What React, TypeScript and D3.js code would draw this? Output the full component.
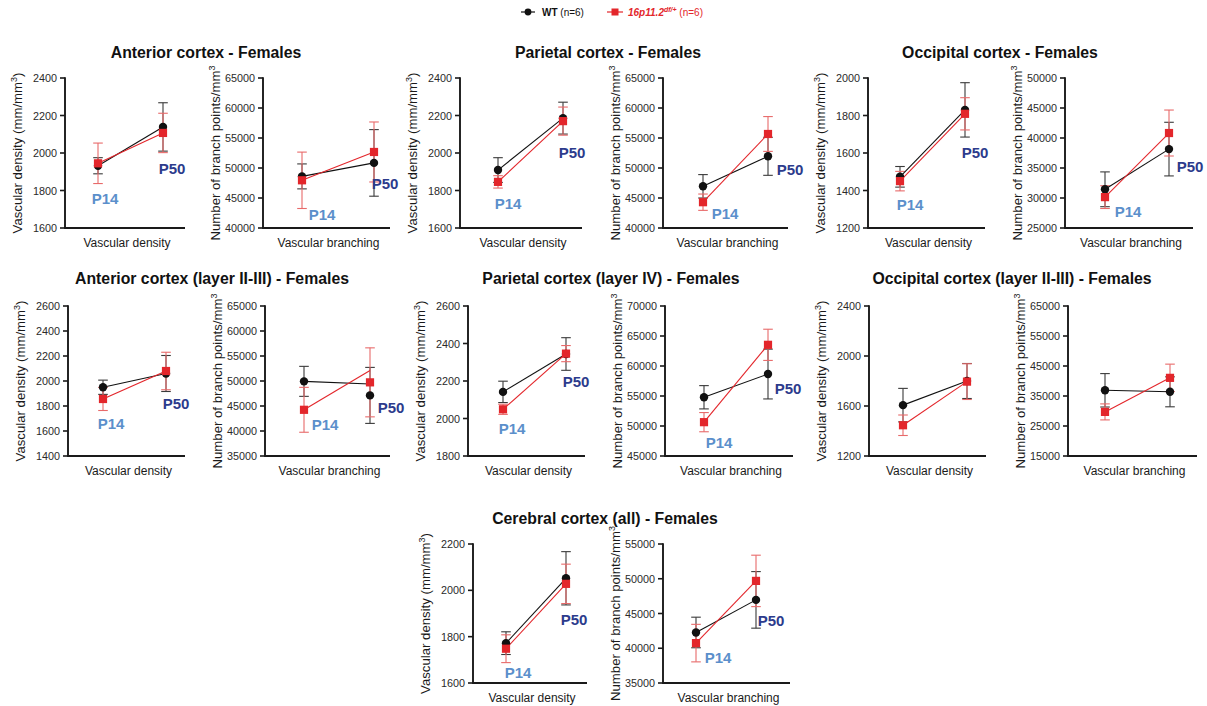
import React from "react";
import * as d3 from "d3";

// ---------------- DATA ----------------
const groupTitles = [
  "Anterior cortex - Females",
  "Parietal cortex - Females",
  "Occipital cortex - Females",
  "Anterior cortex (layer II-III) - Females",
  "Parietal cortex (layer IV) - Females",
  "Occipital cortex (layer II-III) - Females",
  "Cerebral cortex (all) - Females",
];
const metricLabels = ["Vascular density", "Vascular branching"];
const ages = ["P14", "P50"];

// panel order: group0 density, group0 branching, group1 density, ...
const wtMean = [
  [1932, 2139], [48600, 50850],
  [1909, 2186], [46950, 51950],
  [1473, 1830], [31450, 38150],
  [1950, 2060], [49930, 47120],
  [2142, 2344], [54790, 58660],
  [1607, 1800], [36900, 36400],
  [1772, 2052], [42270, 46960],
];
const wtErr = [
  [43, 129], [2080, 5550],
  [66, 85], [1950, 3170],
  [55, 145], [2900, 4470],
  [57, 144], [3000, 5600],
  [57, 87], [1940, 4150],
  [134, 140], [5570, 5000],
  [49, 115], [2200, 4070],
];
const hetMean = [
  [1945, 2107], [47950, 52670],
  [1846, 2170], [44300, 55670],
  [1450, 1809], [30150, 40830],
  [1856, 2080], [44240, 49730],
  [2049, 2346], [50640, 63530],
  [1446, 1795], [29700, 41050],
  [1748, 2028], [40740, 49690],
];
const hetErr = [
  [108, 105], [4700, 5000],
  [33, 75], [1360, 2900],
  [52, 86], [1900, 3830],
  [92, 150], [4490, 6900],
  [27, 43], [1600, 2600],
  [82, 143], [2670, 4570],
  [60, 85], [2700, 3700],
];
// connecting-line values (equal to the means except where the original line differs)
const wtLine = wtMean.map((d, i) => (i === 7 ? [49930, 49400] : d));
const hetLine = hetMean.map((d, i) => (i === 7 ? [44240, 52100] : d));

const yTicks = [
  [1600, 1800, 2000, 2200, 2400], [40000, 45000, 50000, 55000, 60000, 65000],
  [1600, 1800, 2000, 2200, 2400], [40000, 45000, 50000, 55000, 60000, 65000],
  [1200, 1400, 1600, 1800, 2000], [25000, 30000, 35000, 40000, 45000, 50000],
  [1400, 1600, 1800, 2000, 2200, 2400, 2600], [35000, 40000, 45000, 50000, 55000, 60000, 65000],
  [1800, 2000, 2200, 2400, 2600], [45000, 50000, 55000, 60000, 65000, 70000],
  [1200, 1600, 2000, 2400], [15000, 25000, 35000, 45000, 55000, 65000],
  [1600, 1800, 2000, 2200], [35000, 40000, 45000, 50000, 55000],
];
// age-label anchor values (y in data units), null = no label
const ageLabelY = [
  [1760, 1920], [42170, 47500],
  [1733, 2005], [42500, 49670],
  [1323, 1605], [27670, 35330],
  [1664, 1824], [41400, 44800],
  [1949, 2195], [47170, 56330],
  null, null,
  [1647, 1872], [38600, 44060],
];

// ---------------- LAYOUT ----------------
const rows = [
  { top: 78, bottom: 228, titleY: 57.5 },
  { top: 306, bottom: 456, titleY: 283.5 },
  { top: 544, bottom: 683, titleY: 523.5 },
];
const groupLayout = [
  { row: 0, cx: 206 }, { row: 0, cx: 608 }, { row: 0, cx: 1000 },
  { row: 1, cx: 212 }, { row: 1, cx: 611 }, { row: 1, cx: 1012 },
  { row: 2, cx: 605 },
];
// x0, x1 (x axis extent), dx14, dx50 (point offsets), label dx14, label dx50
const panelLayout = [
  [65, 185, 33, 98, 7, 9], [263, 390, 39, 111, 20, 11],
  [460, 582, 38, 103, 10, 9], [663, 788, 40, 105, 22, 22],
  [868, 985, 32, 97, 10, 10], [1065, 1193, 40, 104, 23, 21],
  [68, 185, 35, 98, 8, 10], [265, 390, 39, 105, 21, 21],
  [468, 585, 35, 98, 9, 10], [665, 793, 39, 103, 15, 20],
  [869, 986, 34, 98, 0, 0], [1068, 1197, 37, 102, 0, 0],
  [473, 587, 33, 93, 12, 8], [663, 790, 33, 93, 22, 15],
];

const FONT = "'Liberation Sans', Arial, Helvetica, sans-serif";
const RED = "#e3262b";
const RED_ERR = "#e86a6a";
const BLACK = "#111111";
const BLACK_ERR = "#3a3a3a";
const P14_COLOR = "#5b8fcb";
const P50_COLOR = "#2c3b8c";

function ErrorBar({ x, y1, y2, color }: { x: number; y1: number; y2: number; color: string }) {
  const w = 4.8;
  return (
    <g stroke={color} strokeWidth={1.1} fill="none">
      <line x1={x} x2={x} y1={y1} y2={y2} />
      <line x1={x - w} x2={x + w} y1={y1} y2={y1} />
      <line x1={x - w} x2={x + w} y1={y2} y2={y2} />
    </g>
  );
}

function Panel({ i }: { i: number }) {
  const g = Math.floor(i / 2);
  const metric = i % 2;
  const row = rows[groupLayout[g].row];
  const [x0, x1, d14, d50, l14, l50] = panelLayout[i];
  const ticks = yTicks[i];
  const y = d3.scaleLinear().domain(d3.extent(ticks) as [number, number]).range([row.bottom, row.top]);
  const x = d3.scaleOrdinal<string, number>().domain(ages).range([x0 + d14, x0 + d50]);
  const lineGen = d3
    .line<number>()
    .x((_, k) => x(ages[k]))
    .y((v) => y(v));
  const midY = (row.top + row.bottom) / 2;
  const labels = ageLabelY[i];
  const labelDx = [l14, l50];
  const fmt = d3.format("d");

  return (
    <g>
      {/* axes */}
      <line x1={x0} x2={x0} y1={row.top - 0.8} y2={row.bottom} stroke="#1a1a1a" strokeWidth={1.9} />
      <line x1={x0 - 0.9} x2={x1} y1={row.bottom} y2={row.bottom} stroke="#1a1a1a" strokeWidth={1.9} />
      {ticks.map((t) => (
        <g key={t}>
          <line x1={x0 - 5} x2={x0} y1={y(t)} y2={y(t)} stroke="#1a1a1a" strokeWidth={1.6} />
          <text
            x={x0 - 8}
            y={y(t)}
            textAnchor="end"
            dominantBaseline="central"
            fontSize={10.8}
            fill="#2a2a2a"
            fontFamily={FONT}
          >
            {fmt(t)}
          </text>
        </g>
      ))}
      {/* y label */}
      <text
        transform={`translate(${x0 - 43},${midY}) rotate(-90)`}
        textAnchor="middle"
        fontSize={13.2}
        fill="#1a1a1a"
        fontFamily={FONT}
      >
        {metric === 0 ? (
          <>
            <tspan>Vascular density (mm/mm</tspan>
            <tspan dy={-5} fontSize={9}>3</tspan>
            <tspan dy={5}>)</tspan>
          </>
        ) : (
          <>
            <tspan>Number of branch points/mm</tspan>
            <tspan dy={-5} fontSize={9}>3</tspan>
          </>
        )}
      </text>
      {/* x label */}
      <text
        x={(x0 + x1) / 2 + 2}
        y={row.bottom + 18.5}
        textAnchor="middle"
        fontSize={12}
        fill="#1a1a1a"
        fontFamily={FONT}
      >
        {metricLabels[metric]}
      </text>

      {/* error bars */}
      {ages.map((a, k) => (
        <ErrorBar
          key={"we" + a}
          x={x(a)}
          y1={y(wtMean[i][k] + wtErr[i][k])}
          y2={y(wtMean[i][k] - wtErr[i][k])}
          color={BLACK_ERR}
        />
      ))}
      {ages.map((a, k) => (
        <ErrorBar
          key={"he" + a}
          x={x(a)}
          y1={y(hetMean[i][k] + hetErr[i][k])}
          y2={y(hetMean[i][k] - hetErr[i][k])}
          color={RED_ERR}
        />
      ))}
      {/* lines */}
      <path d={lineGen(wtLine[i]) || ""} stroke={BLACK} strokeWidth={1.1} fill="none" />
      <path d={lineGen(hetLine[i]) || ""} stroke={RED} strokeWidth={1.1} fill="none" />
      {/* markers */}
      {ages.map((a, k) => (
        <circle key={"wm" + a} cx={x(a)} cy={y(wtMean[i][k])} r={4.2} fill={BLACK} />
      ))}
      {ages.map((a, k) => (
        <rect
          key={"hm" + a}
          x={x(a) - 4.1}
          y={y(hetMean[i][k]) - 4.1}
          width={8.2}
          height={8.2}
          fill={RED}
        />
      ))}
      {/* age labels */}
      {labels &&
        ages.map((a, k) => (
          <text
            key={"al" + a}
            x={x(a) + labelDx[k]}
            y={y(labels[k])}
            textAnchor="middle"
            dominantBaseline="central"
            fontSize={15}
            fontWeight="bold"
            fill={k === 0 ? P14_COLOR : P50_COLOR}
            fontFamily={FONT}
          >
            {a}
          </text>
        ))}
    </g>
  );
}

export default function App() {
  const panels = d3.range(14);
  return (
    <svg
      width={1207}
      height={706}
      style={{ position: "absolute", left: 0, top: 0, background: "#fff" }}
      fontFamily={FONT}
    >
      <rect width={1207} height={706} fill="#fff" />
      {/* legend */}
      <g>
        <line x1={521} x2={535} y1={12} y2={12} stroke={BLACK} strokeWidth={1.2} />
        <circle cx={528} cy={12} r={3.4} fill={BLACK} />
        <text x={542} y={15.5} fontSize={10} fill="#111" fontFamily={FONT}>
          <tspan fontWeight="bold">WT</tspan>
          <tspan> (n=6)</tspan>
        </text>
        <line x1={607} x2={623} y1={12} y2={12} stroke={RED} strokeWidth={1.2} />
        <rect x={611.5} y={8.5} width={7} height={7} fill={RED} />
        <text x={628} y={15.5} fontSize={10} fill={RED} fontFamily={FONT}>
          <tspan fontWeight="bold" fontStyle="italic">16p11.2</tspan>
          <tspan fontStyle="italic" fontWeight="bold" fontSize={7} dy={-4}>df/+</tspan>
          <tspan dy={4}> (n=6)</tspan>
        </text>
      </g>
      {/* titles */}
      {groupTitles.map((t, g) => (
        <text
          key={t}
          x={groupLayout[g].cx}
          y={rows[groupLayout[g].row].titleY}
          textAnchor="middle"
          fontSize={15.8}
          fontWeight="bold"
          fill="#111"
          fontFamily={FONT}
        >
          {t}
        </text>
      ))}
      {panels.map((i) => (
        <Panel key={i} i={i} />
      ))}
    </svg>
  );
}
